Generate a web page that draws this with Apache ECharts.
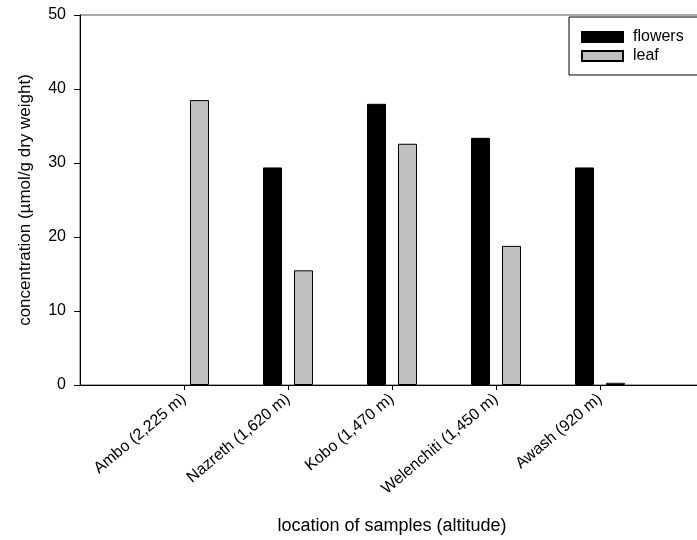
<!DOCTYPE html>
<html>
<head>
<meta charset="utf-8">
<script src="https://cdn.jsdelivr.net/npm/echarts@6/dist/echarts.min.js"></script>
<style>
  html, body { margin: 0; padding: 0; background: #fff; overflow: hidden; width: 697px; height: 540px; }
  /* the plot frame runs past the right edge of the page and is cut there */
  #chart { width: 704px; height: 540px; }
</style>
</head>
<body>
<div id="chart"></div>
<script>
// Sampling sites (altitude) placed at positions 1..5 on the x axis
const sites = ['Ambo (2,225 m)', 'Nazreth (1,620 m)', 'Kobo (1,470 m)', 'Welenchiti (1,450 m)', 'Awash (920 m)'];
const sitePos = [1, 2, 3, 4, 5];
// Concentration in µmol/g dry weight ('-' = not measured)
const flowers = ['-', 29.4, 38.0, 33.4, 29.4];
const leaf = [38.5, 15.5, 32.6, 18.8, 0.3];
const yTicks = [0, 10, 20, 30, 40, 50];

const font = 'Liberation Sans, Arial, Helvetica, sans-serif';
const chart = echarts.init(document.getElementById('chart'), null, { renderer: 'canvas' });

const pair = (vals) => sitePos.map((p, i) => [p, vals[i]]);

chart.setOption({
  animation: false,
  backgroundColor: '#ffffff',
  textStyle: { fontFamily: font, color: '#000' },
  grid: {
    left: 80, top: 15, right: 0, bottom: 153,
    show: true, borderColor: '#555', borderWidth: 1, backgroundColor: 'transparent'
  },
  legend: {
    orient: 'vertical',
    left: 569, top: 17,
    padding: [12, 14, 11, 12],
    itemGap: 3,
    itemWidth: 41, itemHeight: 10,
    borderColor: '#000', borderWidth: 1,
    icon: 'rect',
    textStyle: { fontFamily: font, fontSize: 16, color: '#000', padding: [0, 0, 0, 5] },
    data: ['flowers', 'leaf']
  },
  xAxis: {
    type: 'value',
    min: 0, max: 6, interval: 1,
    name: 'location of samples (altitude)',
    nameLocation: 'middle',
    nameGap: 132,
    nameMoveOverlap: false,
    nameTextStyle: { fontFamily: font, fontSize: 18, color: '#000' },
    splitLine: { show: false },
    axisLine: { show: true, onZero: false, lineStyle: { color: '#000', width: 1 } },
    axisTick: { show: true, length: 5, customValues: sitePos, lineStyle: { color: '#000' } },
    axisLabel: {
      rotate: 40, fontSize: 16, color: '#000', margin: 12,
      customValues: sitePos, hideOverlap: false,
      formatter: (v) => {
        const i = sitePos.indexOf(v);
        return i >= 0 ? sites[i] : '';
      }
    }
  },
  yAxis: {
    type: 'value',
    min: yTicks[0], max: yTicks[yTicks.length - 1], interval: 10,
    name: 'concentration (µmol/g dry weight)',
    nameLocation: 'middle',
    nameGap: 46,
    nameTextStyle: { fontFamily: font, fontSize: 17, color: '#000' },
    splitLine: { show: false },
    axisLine: { show: true, lineStyle: { color: '#000', width: 1 } },
    axisTick: { show: true, length: 6, lineStyle: { color: '#000' } },
    axisLabel: { fontSize: 16, color: '#000', margin: 14 }
  },
  series: [
    {
      name: 'flowers', type: 'bar',
      data: pair(flowers),
      barWidth: 19, barGap: '63%',
      itemStyle: { color: '#000000', borderColor: '#000', borderWidth: 1 }
    },
    {
      name: 'leaf', type: 'bar',
      data: pair(leaf),
      barWidth: 19, barGap: '63%',
      itemStyle: { color: '#c0c0c0', borderColor: '#000', borderWidth: 1 }
    }
  ]
});
</script>
</body>
</html>
